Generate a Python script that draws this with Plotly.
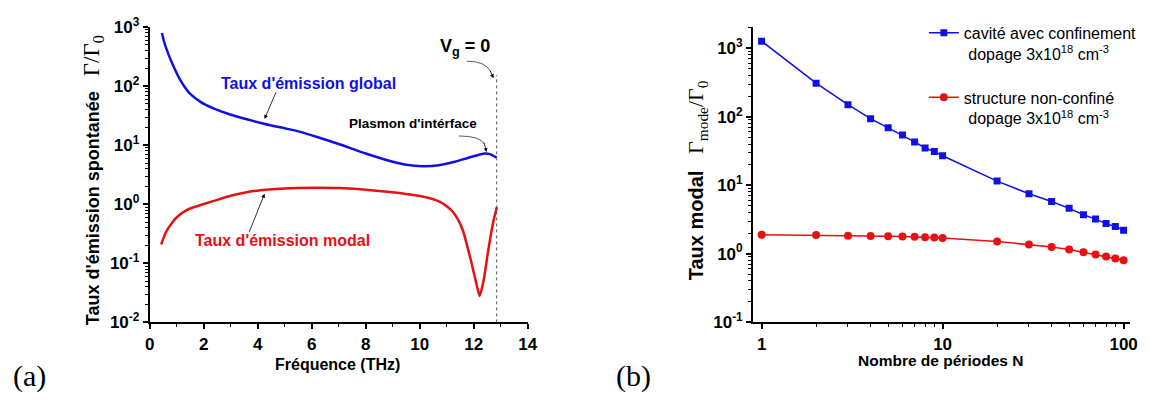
import plotly.graph_objects as go

W, H = 1150, 410


def px(x):
    return x / W


def py(y):
    return (H - y) / H


# ---------------- data : panel (a) ----------------
freq_global = [0.45, 0.52, 0.61, 0.7, 0.79, 0.9, 1.03, 1.15, 1.28, 1.52, 1.89, 2.38, 2.98,
               3.59, 4.26, 5.06, 5.54, 6.2, 7.0, 8.0, 9.0, 9.5, 10.1, 10.7, 11.3, 11.9,
               12.4, 12.6, 12.85]
rate_global = [794, 589, 437, 339, 269, 207, 155, 123, 98.9, 72.4, 53.7, 41.7, 33.1,
               27.5, 22.9, 19.1, 17.0, 13.8, 10.5, 7.24, 5.25, 4.68, 4.42, 4.57, 5.25, 6.31,
               7.24, 7.08, 6.17]

freq_modal = [0.42, 0.6, 0.8, 1.0, 1.3, 1.6, 2.0, 2.5, 3.0, 3.5, 4.1, 5.0, 6.1, 7.0,
              8.0, 9.0, 9.5, 10.1, 10.5, 10.75, 11.0, 11.2, 11.4, 11.6, 11.9, 12.1,
              12.22, 12.37, 12.55, 12.74, 12.86]
rate_modal = [0.209, 0.339, 0.468, 0.603, 0.767, 0.881, 1.01, 1.19, 1.40, 1.57, 1.73, 1.86, 1.9, 1.88,
              1.76, 1.6, 1.5, 1.36, 1.22, 1.1, 0.93, 0.77, 0.57, 0.36, 0.11, 0.045,
              0.028, 0.052, 0.18, 0.54, 0.9]

vg0_freq = 12.85

# ---------------- data : panel (b) ----------------
periods = [1, 2, 3, 4, 5, 6, 7, 8, 9, 10, 20, 30, 40, 50, 60, 70, 80, 90, 100]
cavity = [1275, 310, 150, 94, 69, 54, 43, 35, 31, 27, 11.5, 7.5, 5.8, 4.6, 3.7, 3.2, 2.75, 2.5, 2.2]
nonconf = [1.89, 1.87, 1.83, 1.81, 1.80, 1.78, 1.76, 1.74, 1.72, 1.70, 1.51, 1.36, 1.25, 1.15,
           1.05, 0.97, 0.91, 0.85, 0.80]

# ---------------- tick labels ----------------
a_y_tickvals = [1e-2, 1e-1, 1e0, 1e1, 1e2, 1e3]
a_y_ticktext = ["10<sup>-2</sup>", "10<sup>-1</sup>", "10<sup>0</sup>", "10<sup>1</sup>",
                "10<sup>2</sup>", "10<sup>3</sup>"]
a_x_tickvals = [0, 2, 4, 6, 8, 10, 12, 14]
a_x_ticktext = ["0", "2", "4", "6", "8", "10", "12", "14"]

b_y_tickvals = [1e-1, 1e0, 1e1, 1e2, 1e3]
b_y_ticktext = ["10<sup>-1</sup>", "10<sup>0</sup>", "10<sup>1</sup>", "10<sup>2</sup>",
                "10<sup>3</sup>"]
b_x_tickvals = [1, 10, 100]
b_x_ticktext = ["1", "10", "100"]

legend_names = ["cavité avec confinement<br>\u00a0dopage 3x10<sup>18</sup> cm<sup>-3</sup>",
                "structure non-confiné<br>\u00a0dopage 3x10<sup>18</sup> cm<sup>-3</sup>"]

BLUE = "#1010e6"
RED = "#e81010"
FONT = "Arial, Liberation Sans, sans-serif"
SERIF = "Liberation Serif"


def log_minor(lo, hi):
    vals = []
    for e in range(lo, hi + 1):
        for k in range(2, 10):
            vals.append(k * 10 ** e)
    return vals


fig = go.Figure()

fig.add_trace(go.Scatter(x=freq_global, y=rate_global, mode="lines",
                         line=dict(color=BLUE, width=2.5, shape="spline", smoothing=0.5),
                         showlegend=False, xaxis="x", yaxis="y"))
fig.add_trace(go.Scatter(x=freq_modal, y=rate_modal, mode="lines",
                         line=dict(color=RED, width=2.5, shape="spline", smoothing=0.5),
                         showlegend=False, xaxis="x", yaxis="y"))

fig.add_trace(go.Scatter(x=periods, y=cavity, mode="lines+markers", name=legend_names[0],
                         legendgroup="g1",
                         line=dict(color=BLUE, width=1.5),
                         marker=dict(symbol="square", size=7, color=BLUE),
                         xaxis="x2", yaxis="y2"))
fig.add_trace(go.Scatter(x=periods, y=nonconf, mode="lines+markers", name=legend_names[1],
                         legendgroup="g2",
                         line=dict(color=RED, width=1.5),
                         marker=dict(symbol="circle", size=8, color=RED),
                         xaxis="x2", yaxis="y2"))

tickfont = dict(family=FONT, size=17, color="black", weight="bold")
axis_common = dict(showline=True, linewidth=2, linecolor="black", showgrid=False,
                   zeroline=False, ticks="outside", ticklen=5, tickwidth=1.5,
                   tickcolor="black", tickfont=tickfont, mirror=False)

fig.update_layout(
    width=W, height=H,
    margin=dict(l=0, r=0, t=0, b=0),
    paper_bgcolor="white", plot_bgcolor="white",
    font=dict(family=FONT, color="black"),
    xaxis=dict(domain=[px(146.7), px(529.6)], range=[0, 14], anchor="y",
               tickmode="array", tickvals=a_x_tickvals, ticktext=a_x_ticktext,
               minor=dict(ticks="outside", ticklen=3, tickcolor="black", tickwidth=1,
                          tickmode="linear", tick0=0, dtick=1, showgrid=False),
               **axis_common),
    yaxis=dict(domain=[py(328), py(16)], type="log", range=[-2, 3], anchor="x",
               tickmode="array", tickvals=a_y_tickvals, ticktext=a_y_ticktext,
               minor=dict(ticks="outside", ticklen=3, tickcolor="black", tickwidth=1,
                          tickmode="array", tickvals=log_minor(-2, 2), showgrid=False),
               **axis_common),
    xaxis2=dict(domain=[px(758), px(1140)], type="log", range=[-0.047, 2.036], anchor="y2",
                tickmode="array", tickvals=b_x_tickvals, ticktext=b_x_ticktext,
                minor=dict(ticks="outside", ticklen=3, tickcolor="black", tickwidth=1,
                           tickmode="array", tickvals=log_minor(0, 1), showgrid=False),
                **axis_common),
    yaxis2=dict(domain=[py(327.7), py(16)], type="log", range=[-1, 3.31], anchor="x2",
                tickmode="array", tickvals=b_y_tickvals, ticktext=b_y_ticktext,
                minor=dict(ticks="outside", ticklen=3, tickcolor="black", tickwidth=1,
                           tickmode="array", tickvals=log_minor(-1, 3), showgrid=False),
                **axis_common),
    legend=dict(x=px(931), y=py(4), xanchor="left", yanchor="top",
                font=dict(family=FONT, size=16, color="black"),
                bgcolor="rgba(0,0,0,0)", borderwidth=0, valign="top",
                traceorder="grouped", tracegroupgap=20, itemwidth=30),
    showlegend=True,
)

ann = []
# axis titles
ann.append(dict(text="<b>Taux d'émission spontanée</b>\u00a0\u00a0\u00a0"
                     "<span style=\"font-family:Liberation Serif;font-size:23px\">Γ/Γ<sub>0</sub></span>",
                x=px(90), y=py(178), xref="paper", yref="paper", textangle=-90,
                showarrow=False, font=dict(family=FONT, size=18, color="black"),
                xanchor="center", yanchor="middle"))
ann.append(dict(text="<b>Taux modal</b>\u00a0\u00a0\u00a0"
                     "<span style=\"font-family:Liberation Serif;font-size:22px\">Γ<sub>mode</sub>/Γ<sub>0</sub></span>",
                x=px(702), y=py(178), xref="paper", yref="paper", textangle=-90,
                showarrow=False, font=dict(family=FONT, size=20, color="black"),
                xanchor="center", yanchor="middle"))
ann.append(dict(text="<b>Fréquence (THz)</b>", x=px(337), y=py(373), xref="paper", yref="paper",
                showarrow=False, font=dict(family=FONT, size=16, color="black"),
                xanchor="center", yanchor="middle"))
ann.append(dict(text="<b>Nombre de périodes N</b>", x=px(948), y=py(368), xref="paper", yref="paper",
                showarrow=False, font=dict(family=FONT, size=15.5, color="black"),
                xanchor="center", yanchor="middle"))
# panel labels
ann.append(dict(text="(a)", x=px(25), y=py(385), xref="paper", yref="paper", showarrow=False,
                font=dict(family=SERIF, size=30, color="black"), xanchor="center", yanchor="middle"))
ann.append(dict(text="(b)", x=px(637), y=py(385), xref="paper", yref="paper", showarrow=False,
                font=dict(family=SERIF, size=30, color="black"), xanchor="center", yanchor="middle"))
# in-plot labels
ann.append(dict(text="<b>Taux d'émission global</b>", x=px(308), y=py(76), xref="paper", yref="paper",
                showarrow=False, font=dict(family=FONT, size=16, color=BLUE),
                xanchor="center", yanchor="middle"))
ann.append(dict(text="<b>Taux d'émission modal</b>", x=px(281), y=py(241.7), xref="paper", yref="paper",
                showarrow=False, font=dict(family=FONT, size=16, color=RED),
                xanchor="center", yanchor="middle"))
ann.append(dict(text="<b>Plasmon d'intérface</b>", x=px(413), y=py(118), xref="paper", yref="paper",
                showarrow=False, font=dict(family=FONT, size=13.5, color="black"),
                xanchor="center", yanchor="middle"))
ann.append(dict(text="<b>V<sub>g</sub> = 0</b>", x=px(466), y=py(38), xref="paper", yref="paper",
                showarrow=False, font=dict(family=FONT, size=18, color="black"),
                xanchor="center", yanchor="middle"))


# arrows
def arrow(tail, head):
    return dict(text="", x=px(head[0]), y=py(head[1]), xref="paper", yref="paper",
                ax=tail[0] - head[0], ay=tail[1] - head[1], axref="pixel", ayref="pixel",
                showarrow=True, arrowhead=2, arrowsize=1, arrowwidth=0.8,
                arrowcolor="black", standoff=0, startstandoff=0)


ann.append(arrow((275, 85), (263, 113)))
ann.append(arrow((247, 232), (263, 192)))
ann.append(arrow((485, 137), (488, 148)))
ann.append(arrow((491, 61), (495, 70)))

shapes = []
# curved arrow bodies
shapes.append(dict(type="path", xref="paper", yref="paper",
                   path=f"M {px(460)} {py(131)} Q {px(482)} {py(131)} {px(486)} {py(140)}",
                   line=dict(color="#333", width=0.8)))
shapes.append(dict(type="path", xref="paper", yref="paper",
                   path=f"M {px(468)} {py(52)} Q {px(487)} {py(52)} {px(492)} {py(63)}",
                   line=dict(color="#333", width=0.8)))
# V_g = 0 dotted line
shapes.append(dict(type="line", xref="x", yref="paper", x0=vg0_freq, x1=vg0_freq,
                   y0=py(328), y1=py(67), line=dict(color="#555", width=1, dash="dot")))

fig.update_layout(annotations=ann, shapes=shapes)

fig.write_html("out.html")
